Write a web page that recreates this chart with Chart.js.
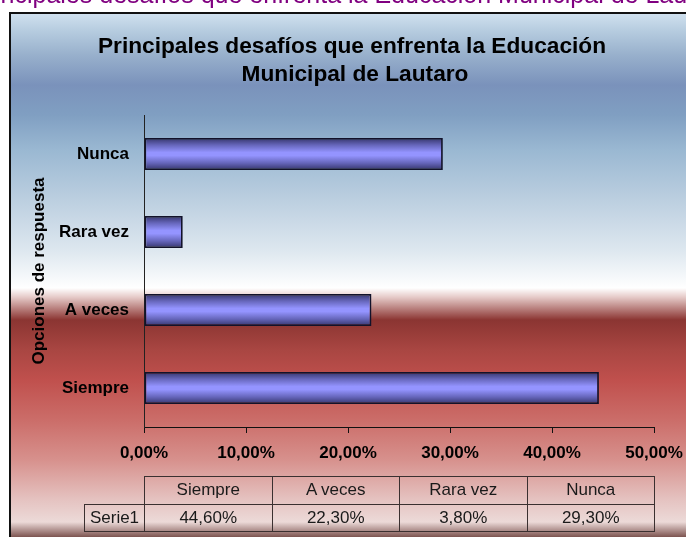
<!DOCTYPE html>
<html>
<head>
<meta charset="utf-8">
<script src="https://cdn.jsdelivr.net/npm/chart.js@4.4.0/dist/chart.umd.min.js"></script>
<style>
    body { margin: 0; background: #fff; overflow: hidden; font-family: "Liberation Sans", Arial, sans-serif; }
    #wrap { position: relative; width: 686px; height: 537px; overflow: hidden; }
    #heading { position: absolute; top: -18px; left: -30px; white-space: nowrap; font-size: 25px; line-height: 25px; color: #800080; z-index: 2; }
    #chart { position: absolute; left: 0; top: 0; }
    .cell { position: absolute; box-sizing: border-box; border: 1px solid #3a3030; font-size: 17px; color: #1a1a1a; text-align: center; line-height: 26px; }
</style>
</head>
<body>
<div id="wrap">
    <div id="heading">Principales desafíos que enfrenta la Educación Municipal de Lautaro</div>
    <canvas id="chart" width="686" height="537"></canvas>
    <div id="table"></div>
</div>
<script>
const categories = ['Siempre', 'A veces', 'Rara vez', 'Nunca'];
const values = [44.6, 22.3, 3.8, 29.3];
const seriesName = 'Serie1';
const xTicks = [0, 10, 20, 30, 40, 50];
const chartTitle = ['Principales desafíos que enfrenta la Educación', 'Municipal de Lautaro'];
const axisTitle = 'Opciones de respuesta';

function formatPct(v) {
    return v.toFixed(2).replace('.', ',') + '%';
}

// background of the chart box, gradient + border
const backgroundPlugin = {
    id: 'boxBackground',
    beforeDraw: function (chart) {
        const ctx = chart.ctx;
        ctx.save();
        ctx.fillStyle = '#fff';
        ctx.fillRect(0, 0, 686, 537);
        const g = ctx.createLinearGradient(0, 14, 0, 537);
        const stops = [
            [14, '#cfe0ee'], [30, '#b7cde0'], [55, '#98b0cc'], [85, '#7a92bb'],
            [115, '#809fc2'], [150, '#9ab8d2'], [200, '#bccfe0'], [250, '#dde7ef'],
            [288, '#ffffff'], [297, '#e6cbc9'], [320, '#8b3532'], [350, '#a94642'],
            [380, '#c0504d'], [420, '#cb6d69'], [460, '#d7918d'], [500, '#e5c3c1'],
            [522, '#ecdad8'], [537, '#7d5450']
        ];
        stops.forEach(function (s) {
            g.addColorStop((s[0] - 14) / (537 - 14), s[1]);
        });
        ctx.fillStyle = g;
        ctx.fillRect(11, 14, 675, 523);
        ctx.strokeStyle = '#111';
        ctx.lineWidth = 2;
        ctx.beginPath();
        ctx.moveTo(10, 537);
        ctx.lineTo(10, 13);
        ctx.lineTo(686, 13);
        ctx.stroke();
        ctx.restore();
    },
    afterDraw: function (chart) {
        const ctx = chart.ctx;
        ctx.save();
        ctx.fillStyle = '#000';
        ctx.font = 'bold 22.7px "Liberation Sans", Arial, sans-serif';
        ctx.textAlign = 'center';
        ctx.textBaseline = 'alphabetic';
        ctx.fillText(chartTitle[0], 352, 53);
        ctx.fillText(chartTitle[1], 355, 81);
        ctx.restore();
    }
};

function barFill(context) {
    const chart = context.chart;
    const yScale = chart.scales.y;
    if (!yScale || context.type !== 'data') return '#9090ff';
    const yc = yScale.getPixelForValue(context.dataIndex);
    const half = (yScale.height / categories.length) * 0.41 / 2;
    if (!isFinite(yc) || !isFinite(half) || half <= 0) return '#9090ff';
    const g = chart.ctx.createLinearGradient(0, yc - half, 0, yc + half);
    g.addColorStop(0, '#34346a');
    g.addColorStop(0.22, '#6666bb');
    g.addColorStop(0.45, '#9494ff');
    g.addColorStop(0.55, '#9494ff');
    g.addColorStop(0.78, '#6666bb');
    g.addColorStop(1, '#34346a');
    return g;
}

new Chart(document.getElementById('chart'), {
    type: 'bar',
    data: {
        labels: categories,
        datasets: [{
            label: seriesName,
            data: values,
            backgroundColor: barFill,
            borderColor: '#12122a',
            borderWidth: 1.8,
            borderSkipped: false,
            categoryPercentage: 1,
            barPercentage: 0.41
        }]
    },
    plugins: [backgroundPlugin],
    options: {
        indexAxis: 'y',
        responsive: false,
        animation: false,
        layout: {
            padding: { left: 20, top: 115, right: 32, bottom: 0 }
        },
        plugins: {
            legend: { display: false },
            tooltip: { enabled: false },
            title: { display: false }
        },
        scales: {
            x: {
                min: xTicks[0],
                max: xTicks[xTicks.length - 1],
                afterFit: function (scale) {
                    scale.height = 110;
                    scale.paddingLeft = 0;
                    scale.paddingRight = 0;
                },
                grid: {
                    display: true,
                    drawOnChartArea: false,
                    drawTicks: true,
                    tickLength: 6,
                    color: '#111'
                },
                border: { display: true, color: '#111', width: 1 },
                ticks: {
                    stepSize: xTicks[1] - xTicks[0],
                    padding: 10,
                    color: '#000',
                    font: { family: '"Liberation Sans", Arial, sans-serif', size: 17, weight: 'bold' },
                    callback: function (value) { return formatPct(value); }
                }
            },
            y: {
                reverse: true,
                afterFit: function (scale) { scale.width = 124; },
                grid: { display: false },
                border: { display: true, color: '#222', width: 1 },
                ticks: {
                    padding: 7,
                    color: '#000',
                    font: { family: '"Liberation Sans", Arial, sans-serif', size: 17, weight: 'bold' }
                },
                title: {
                    display: true,
                    text: axisTitle,
                    color: '#000',
                    padding: { top: 9, bottom: 0 },
                    font: { family: '"Liberation Sans", Arial, sans-serif', size: 17, weight: 'bold' }
                }
            }
        }
    }
});

// data table under the axis
(function buildTable() {
    const box = document.getElementById('table');
    const left = 144, colW = 127.5, top = 476, rowH = 27.5;
    function cell(text, x, y, w, h) {
        const d = document.createElement('div');
        d.className = 'cell';
        d.style.left = x + 'px';
        d.style.top = y + 'px';
        d.style.width = (w + 1) + 'px';
        d.style.height = (h + 1) + 'px';
        d.style.lineHeight = (h - 1) + 'px';
        d.textContent = text;
        box.appendChild(d);
    }
    categories.forEach(function (c, i) {
        cell(c, left + i * colW, top, colW, rowH);
        cell(formatPct(values[i]), left + i * colW, top + rowH, colW, rowH);
    });
    cell(seriesName, 84, top + rowH, 60, rowH);
})();
</script>
</body>
</html>
